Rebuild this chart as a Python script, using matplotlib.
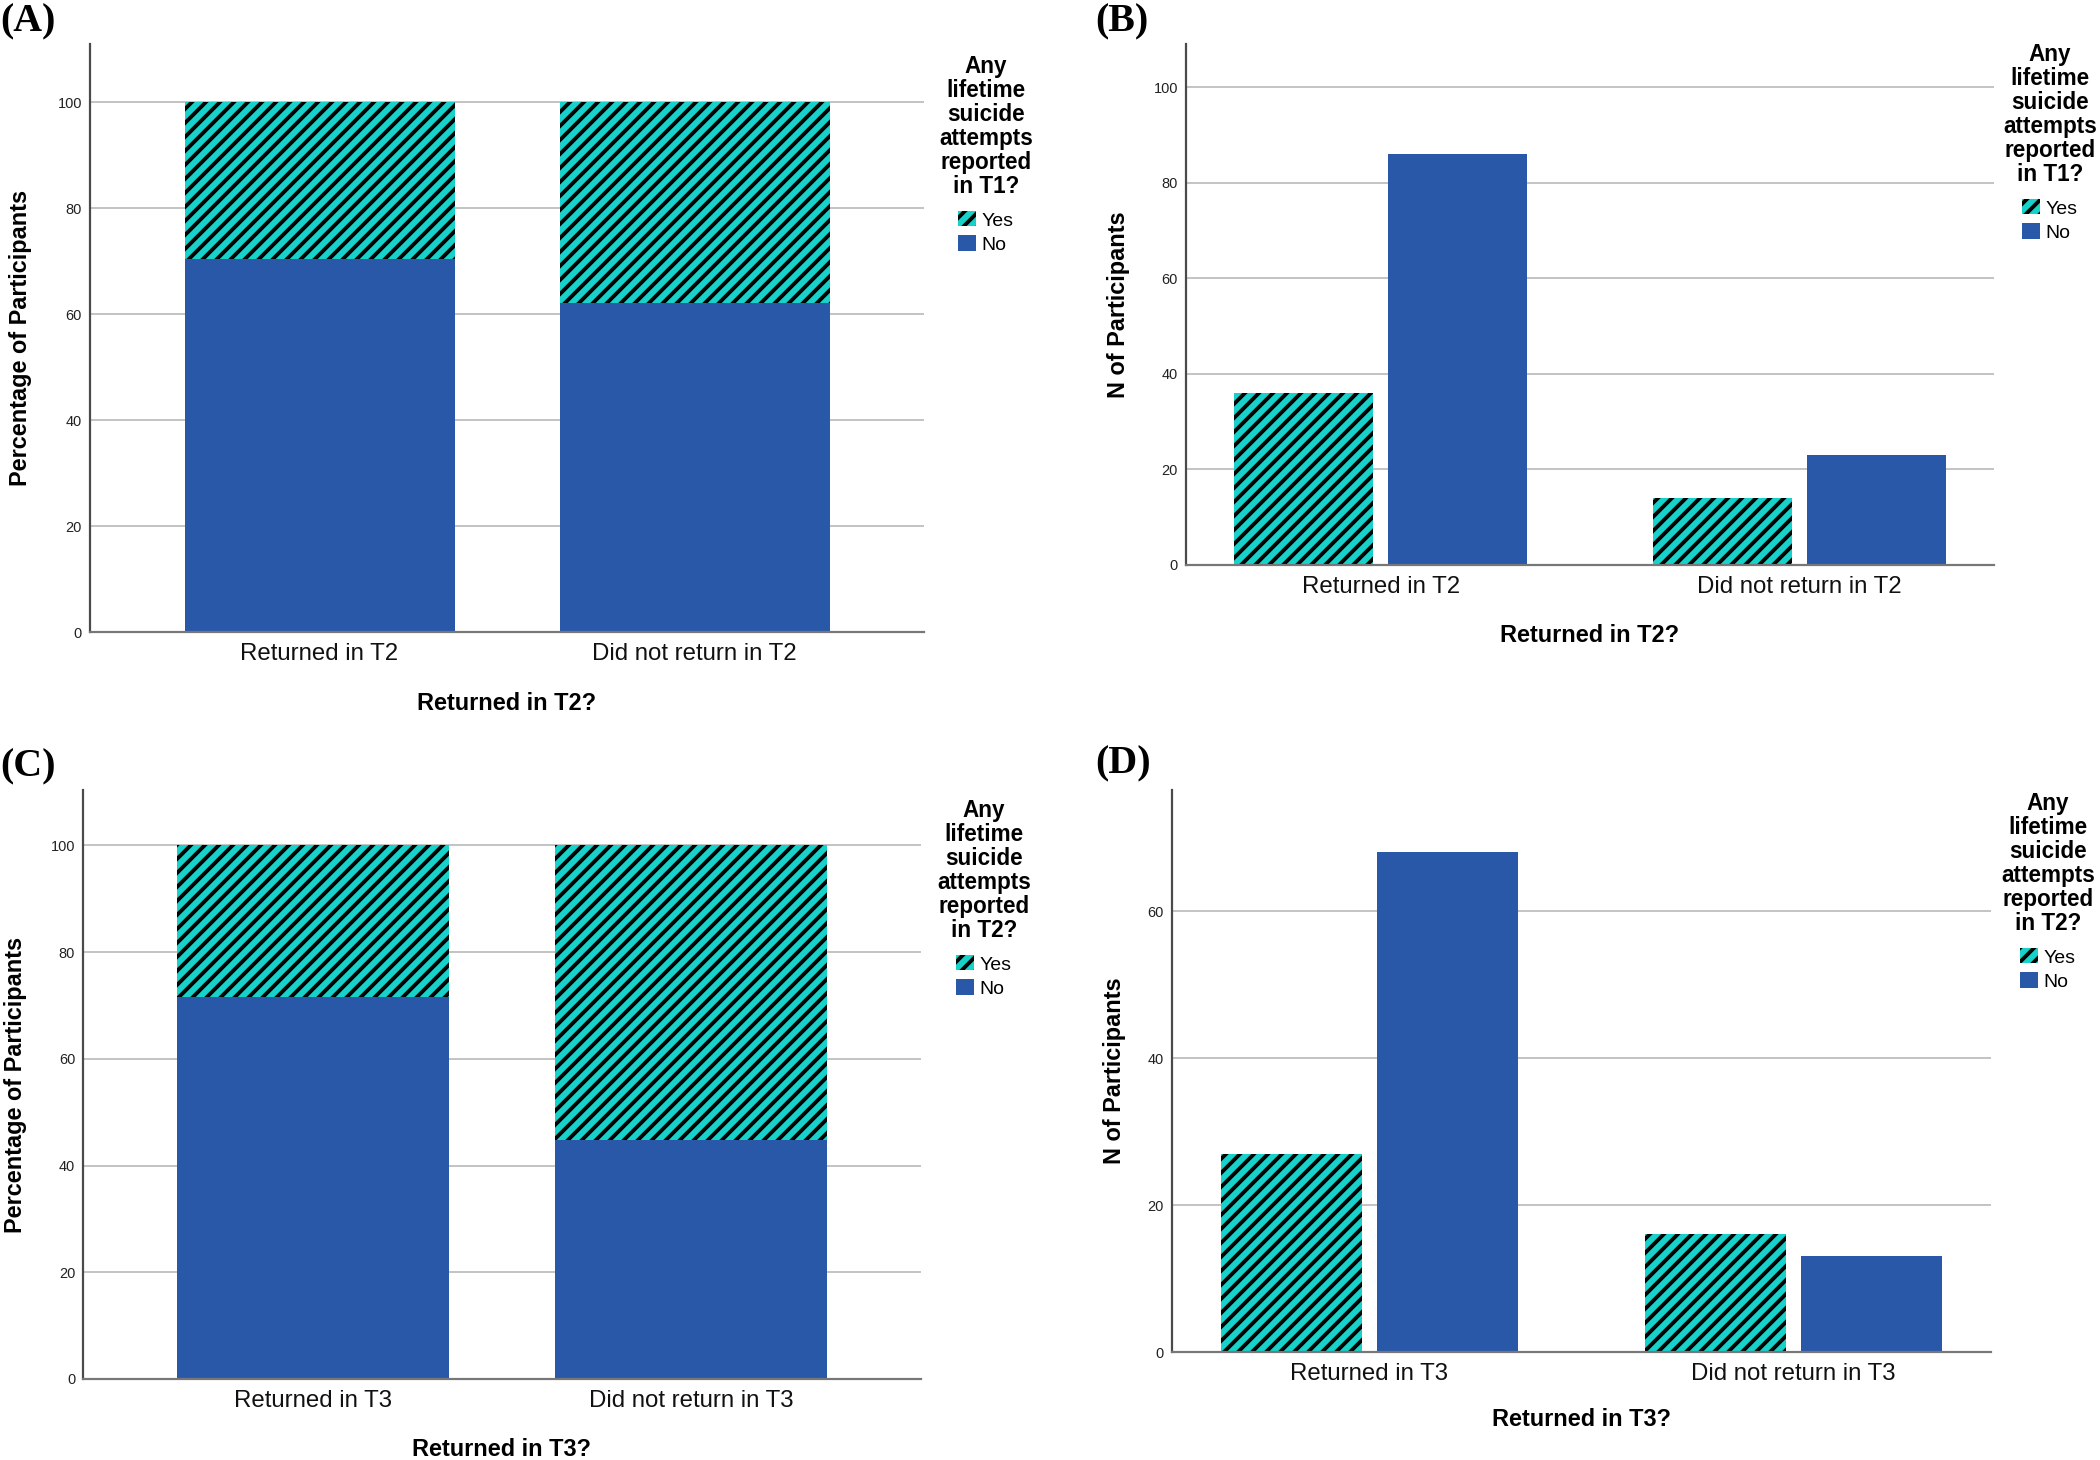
import matplotlib
matplotlib.use("Agg")
import matplotlib.pyplot as plt
from matplotlib.patches import Patch

# ---------------- data ----------------
categories_t2 = ["Returned in T2", "Did not return in T2"]
categories_t3 = ["Returned in T3", "Did not return in T3"]
legend_labels = ["Yes", "No"]

# Panel A: percentage of participants (stacked)
pct_t2_no = [70.5, 62.2]
pct_t2_yes = [29.5, 37.8]
# Panel B: N of participants (grouped)
n_t2_yes = [36, 14]
n_t2_no = [86, 23]
# Panel C: percentage of participants (stacked)
pct_t3_no = [71.6, 44.8]
pct_t3_yes = [28.4, 55.2]
# Panel D: N of participants (grouped)
n_t3_yes = [27, 16]
n_t3_no = [68, 13]

yticks_pct = [0, 20, 40, 60, 80, 100]
yticks_n_t2 = [0, 20, 40, 60, 80, 100]
yticks_n_t3 = [0, 20, 40, 60]

legend_title_t1 = "Any\nlifetime\nsuicide\nattempts\nreported\nin T1?"
legend_title_t2 = "Any\nlifetime\nsuicide\nattempts\nreported\nin T2?"

# ---------------- style ----------------
DPI = 84
W, H = 2100, 1460


def px(v):
    return v * 72.0 / DPI


BLUE = "#2A58A8"
CYAN = "#17D2CA"
GRID = "#c4c4c4"
SANS = ["Liberation Sans", "DejaVu Sans"]
HATCH = "//"

plt.rcParams["hatch.linewidth"] = 3.3
plt.rcParams["font.family"] = SANS

fig = plt.figure(figsize=(W / DPI, H / DPI), dpi=DPI)


def make_ax(l, t, r, b):
    return fig.add_axes([l / W, 1 - b / H, (r - l) / W, (b - t) / H])


def style(ax, rect, ymax, yticks, cats, xlim, ylabel, xlabel, ylab_x, xlab_y):
    l, t, r, b = rect
    ax.set_xlim(*xlim)
    ax.set_ylim(0, ymax)
    ax.set_yticks(yticks)
    ax.set_xticks(range(len(cats)))
    ax.set_xticklabels(cats, family=SANS, fontsize=px(24))
    for lab in ax.get_yticklabels():
        lab.set_family(SANS)
        lab.set_fontsize(px(14.5))
    ax.tick_params(axis="both", length=0)
    ax.tick_params(axis="y", pad=px(8), labelcolor="#222222")
    ax.tick_params(axis="x", pad=px(11), labelcolor="#111111")
    ax.yaxis.grid(True, color=GRID, lw=px(2))
    ax.set_axisbelow(True)
    for s in ["top", "right"]:
        ax.spines[s].set_visible(False)
    ax.spines["left"].set_color("#4a4a4a")
    ax.spines["left"].set_linewidth(px(2.2))
    ax.spines["bottom"].set_color("#777777")
    ax.spines["bottom"].set_linewidth(px(2.2))
    ax.set_ylabel(ylabel, family=SANS, weight="bold", fontsize=px(23.5))
    ax.yaxis.set_label_coords(ylab_x / W, 1 - ((t + b) / 2) / H, transform=fig.transFigure)
    ax.yaxis.label.set_va("center")
    ax.set_xlabel(xlabel, family=SANS, weight="bold", fontsize=px(23.5))
    ax.xaxis.set_label_coords(((l + r) / 2) / W, 1 - xlab_y / H, transform=fig.transFigure)
    ax.xaxis.label.set_va("center")


def add_legend(ax, title, cx, ty):
    handles = [Patch(facecolor=CYAN, edgecolor="black", hatch=HATCH, linewidth=0),
               Patch(facecolor=BLUE, edgecolor="none")]
    fs = 19.5
    leg = ax.legend(handles, legend_labels, title=title, loc="upper center",
                    bbox_to_anchor=(cx / W, 1 - ty / H), bbox_transform=fig.transFigure,
                    frameon=False, borderpad=0, borderaxespad=0,
                    prop={"family": SANS, "size": px(fs)},
                    title_fontproperties={"family": SANS, "weight": "bold", "size": px(22.5)},
                    handlelength=0.88, handleheight=0.82, handletextpad=0.3,
                    labelspacing=0.3)
    t = leg.get_title()
    t.set_linespacing(1.06)
    t.set_multialignment("center")
    # extra gap between the title block and the entries
    leg._legend_box.sep = px(0.3 * fs + 7)
    return leg


def stacked(ax, no, yes):
    x = list(range(len(no)))
    ax.bar(x, no, width=0.72, color=BLUE, linewidth=0)
    ax.bar(x, yes, width=0.72, bottom=no, color=CYAN, edgecolor="black",
           hatch=HATCH, linewidth=0)


def grouped(ax, yes, no):
    x = list(range(len(yes)))
    w = 0.332
    off = 0.184
    ax.bar([i - off for i in x], yes, width=w, color=CYAN, edgecolor="black",
           hatch=HATCH, linewidth=0)
    ax.bar([i + off for i in x], no, width=w, color=BLUE, linewidth=0)


# Panel A
rA = (90, 44, 924, 632)
axA = make_ax(*rA)
stacked(axA, pct_t2_no, pct_t2_yes)
style(axA, rA, 111, yticks_pct, categories_t2, (-0.612, 1.612),
      "Percentage of Participants", "Returned in T2?", 21, 703)
add_legend(axA, legend_title_t1, 986, 55)

# Panel B
rB = (1186, 44, 1994, 565)
axB = make_ax(*rB)
grouped(axB, n_t2_yes, n_t2_no)
style(axB, rB, 109, yticks_n_t2, categories_t2, (-0.465, 1.465),
      "N of Participants", "Returned in T2?", 1118, 635)
add_legend(axB, legend_title_t1, 2050, 43)

# Panel C
rC = (83, 790, 921, 1379)
axC = make_ax(*rC)
stacked(axC, pct_t3_no, pct_t3_yes)
style(axC, rC, 110.4, yticks_pct, categories_t3, (-0.608, 1.608),
      "Percentage of Participants", "Returned in T3?", 16, 1449)
add_legend(axC, legend_title_t2, 984, 799)

# Panel D
rD = (1172, 790, 1991, 1352)
axD = make_ax(*rD)
grouped(axD, n_t3_yes, n_t3_no)
style(axD, rD, 76.5, yticks_n_t3, categories_t3, (-0.465, 1.465),
      "N of Participants", "Returned in T3?", 1115, 1419)
add_legend(axD, legend_title_t2, 2048, 792)

# Panel letters
for lab, x, y in [("(A)", 0, 3), ("(B)", 1095, 3), ("(C)", 0, 748), ("(D)", 1095, 745)]:
    fig.text(x / W, 1 - y / H, lab, ha="left", va="top",
             family=["Liberation Serif", "DejaVu Serif"], weight="bold", fontsize=px(40))

fig.savefig("out.png", dpi=DPI, facecolor="white")
